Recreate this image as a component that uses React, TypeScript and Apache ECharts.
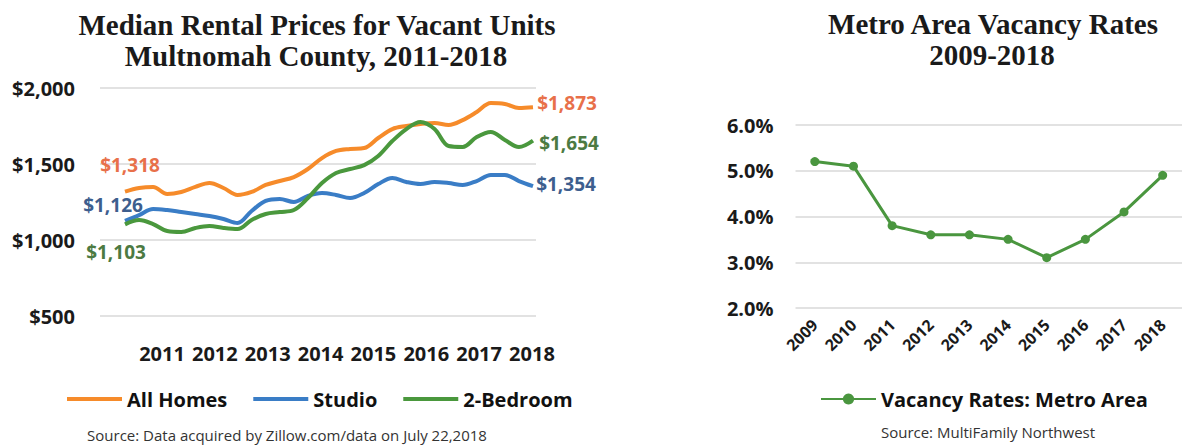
import React, { useEffect, useRef } from "react";
import * as echarts from "echarts";

const quarters = [
  "2011 Q1", "2011 Q2", "2011 Q3", "2011 Q4",
  "2012 Q1", "2012 Q2", "2012 Q3", "2012 Q4",
  "2013 Q1", "2013 Q2", "2013 Q3", "2013 Q4",
  "2014 Q1", "2014 Q2", "2014 Q3", "2014 Q4",
  "2015 Q1", "2015 Q2", "2015 Q3", "2015 Q4",
  "2016 Q1", "2016 Q2", "2016 Q3", "2016 Q4",
  "2017 Q1", "2017 Q2", "2017 Q3", "2017 Q4",
  "2018 Q1", "2018 Q2",
];
const yearTicks = ["2011", "2012", "2013", "2014", "2015", "2016", "2017", "2018"];

const allHomes = [
  1318, 1342, 1349, 1303, 1316, 1349, 1375, 1342, 1296, 1316,
  1362, 1388, 1414, 1467, 1539, 1586, 1599, 1605, 1671, 1730,
  1750, 1763, 1770, 1757, 1789, 1842, 1901, 1895, 1868, 1873,
];
const studio = [
  1126, 1164, 1204, 1197, 1184, 1171, 1158, 1138, 1112, 1191,
  1257, 1270, 1250, 1290, 1309, 1296, 1276, 1309, 1368, 1408,
  1382, 1368, 1382, 1375, 1362, 1388, 1428, 1428, 1388, 1354,
];
const twoBedroom = [
  1103, 1132, 1105, 1059, 1053, 1079, 1092, 1079, 1072, 1132,
  1171, 1184, 1197, 1276, 1375, 1441, 1467, 1493, 1553, 1651,
  1730, 1776, 1730, 1618, 1612, 1678, 1711, 1658, 1612, 1654,
];

const vacancyYears = ["2009", "2010", "2011", "2012", "2013", "2014", "2015", "2016", "2017", "2018"];
const vacancyRates = [5.2, 5.1, 3.8, 3.6, 3.6, 3.5, 3.1, 3.5, 4.1, 4.9];

const money = (v: number) => "$" + v.toLocaleString("en-US");

const FONT = "Open Sans";
const SERIF = "Liberation Serif";

function rentSeries(
  name: string,
  data: number[],
  color: string,
  labelColor: string,
  startOffset: [number, number],
  endOffset: [number, number]
) {
  const last = data.length - 1;
  return {
    name,
    type: "line",
    xAxisIndex: 1,
    yAxisIndex: 1,
    data,
    smooth: 0.35,
    symbol: "none",
    color,
    itemStyle: { color },
    lineStyle: { width: 4, color },
    markPoint: {
      silent: true,
      symbol: "circle",
      symbolSize: 1,
      itemStyle: { color: "rgba(0,0,0,0)" },
      label: {
        show: true,
        position: "inside",
        color: labelColor,
        fontFamily: FONT,
        fontWeight: "bold",
        fontSize: 19,
        formatter: (p: any) => money(p.value),
      },
      data: [
        { coord: [0, data[0]], value: data[0], label: { offset: startOffset } },
        { coord: [last, data[last]], value: data[last], label: { offset: endOffset } },
      ],
    },
  };
}

export default function App() {
  const ref = useRef<HTMLDivElement>(null);

  useEffect(() => {
    if (!ref.current) return;
    const chart = echarts.init(ref.current, undefined, { renderer: "svg" });
    const gridLine = { show: true, lineStyle: { color: "#d9d9d9", width: 1.5 } };
    const axisLabelBold = (size: number) => ({
      fontFamily: FONT,
      fontWeight: "bold" as const,
      fontSize: size,
      color: "#1a1a1a",
    });
    const titleStyle = (text: string) => ({
      text,
      font: `bold 29px "${SERIF}"`,
      fill: "#1a1a1a",
      align: "center",
      verticalAlign: "middle",
    });

    chart.setOption({
      animation: false,
      backgroundColor: "#ffffff",
      textStyle: { fontFamily: FONT },
      grid: [
        { left: 100, right: 646, top: 88, bottom: 132 },
        { left: 125, right: 649, top: 88, bottom: 132 },
        { left: 135.6, right: 623.6, top: 88, bottom: 132 },
        { left: 795.5, right: -8, top: 125, bottom: 140 },
      ],
      xAxis: [
        { gridIndex: 0, type: "value", min: 0, max: 1, show: false },
        { gridIndex: 1, type: "category", data: quarters, boundaryGap: false, show: false },
        {
          gridIndex: 2,
          type: "category",
          data: yearTicks,
          boundaryGap: true,
          axisLine: { show: false },
          axisTick: { show: false },
          splitLine: { show: false },
          axisLabel: { ...axisLabelBold(20), margin: 27, interval: 0 },
        },
        {
          gridIndex: 3,
          type: "category",
          data: vacancyYears,
          boundaryGap: true,
          axisLine: { show: false },
          axisTick: { show: false },
          splitLine: { show: false },
          axisLabel: { ...axisLabelBold(16), rotate: 45, margin: 14, interval: 0 },
        },
      ],
      yAxis: [
        {
          gridIndex: 0,
          type: "value",
          min: 500,
          max: 2000,
          interval: 500,
          axisLine: { show: false },
          axisTick: { show: false },
          splitLine: gridLine,
          axisLabel: { ...axisLabelBold(20), margin: 25, formatter: (v: number) => money(v) },
        },
        { gridIndex: 1, type: "value", min: 500, max: 2000, show: false, splitLine: { show: false } },
        { gridIndex: 2, type: "value", min: 0, max: 1, show: false, splitLine: { show: false } },
        {
          gridIndex: 3,
          type: "value",
          min: 2,
          max: 6,
          interval: 1,
          axisLine: { show: false },
          axisTick: { show: false },
          splitLine: gridLine,
          axisLabel: { ...axisLabelBold(20), margin: 22, formatter: (v: number) => v.toFixed(1) + "%" },
        },
      ],
      legend: [
        {
          data: ["All Homes", "Studio", "2-Bedroom"],
          left: 62,
          top: 384,
          icon: "rect",
          itemWidth: 55,
          itemHeight: 4,
          itemGap: 26,
          textStyle: { fontFamily: FONT, fontWeight: "bold", fontSize: 20, color: "#111" },
        },
        {
          data: ["Vacancy Rates: Metro Area"],
          left: 815,
          top: 384,
          itemWidth: 55,
          itemHeight: 14,
          textStyle: { fontFamily: FONT, fontWeight: "bold", fontSize: 20, color: "#111" },
        },
      ],
      series: [
        rentSeries("All Homes", allHomes, "#F68B2A", "#E8704A", [5, -27], [34, -4]),
        rentSeries("Studio", studio, "#3A7DC6", "#3D5E8E", [-12, -16], [33, -2]),
        rentSeries("2-Bedroom", twoBedroom, "#4A983D", "#4C7A42", [-9, 28], [36, 2]),
        {
          name: "Vacancy Rates: Metro Area",
          type: "line",
          xAxisIndex: 3,
          yAxisIndex: 3,
          data: vacancyRates,
          color: "#4A963F",
          lineStyle: { width: 3, color: "#4A963F" },
          itemStyle: { color: "#4A963F" },
          symbol: "circle",
          symbolSize: 9,
          showSymbol: true,
        },
      ],
      graphic: [
        { type: "text", x: 317, y: 25, style: titleStyle("Median Rental Prices for Vacant Units") },
        { type: "text", x: 316, y: 56, style: titleStyle("Multnomah County, 2011-2018") },
        { type: "text", x: 993, y: 24, style: titleStyle("Metro Area Vacancy Rates") },
        { type: "text", x: 992, y: 55, style: titleStyle("2009-2018") },
        {
          type: "text",
          x: 287,
          y: 435,
          style: {
            text: "Source: Data acquired by Zillow.com/data on July 22,2018",
            font: `15px "${FONT}"`,
            fill: "#333",
            align: "center",
            verticalAlign: "middle",
          },
        },
        {
          type: "text",
          x: 988,
          y: 432,
          style: {
            text: "Source: MultiFamily Northwest",
            font: `15px "${FONT}"`,
            fill: "#333",
            align: "center",
            verticalAlign: "middle",
          },
        },
      ],
    });

    return () => chart.dispose();
  }, []);

  return (
    <div
      ref={ref}
      style={{ position: "fixed", left: 0, top: 0, width: 1182, height: 448, background: "#fff" }}
    />
  );
}
